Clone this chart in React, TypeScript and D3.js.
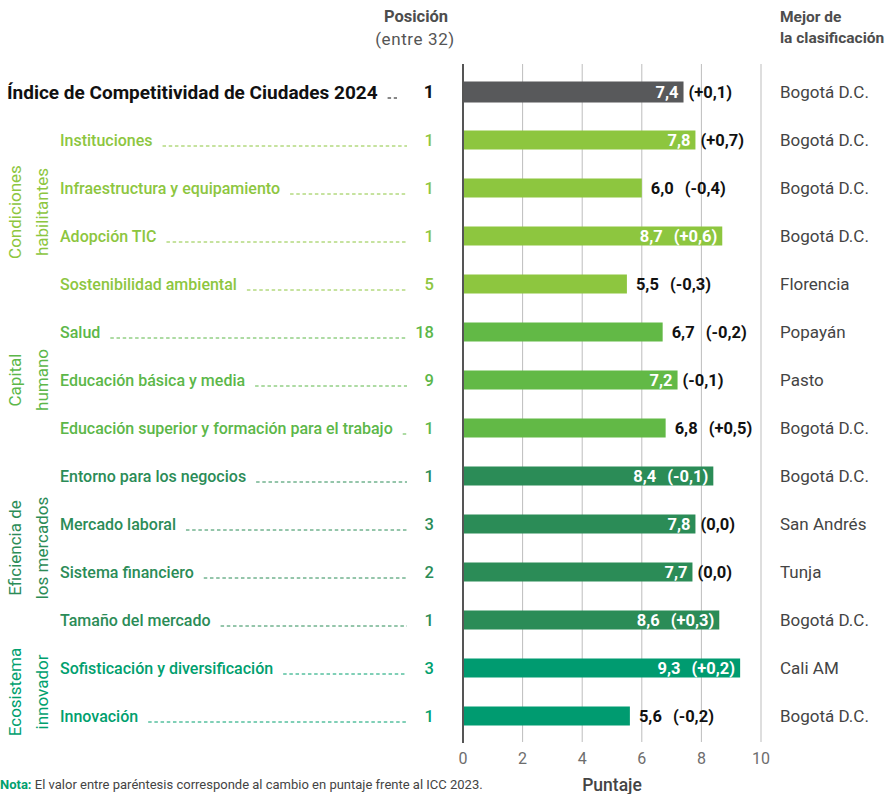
import React, { useEffect, useRef } from "react";
import * as d3 from "d3";

const categories = [
  "Índice de Competitividad de Ciudades 2024",
  "Instituciones",
  "Infraestructura y equipamiento",
  "Adopción TIC",
  "Sostenibilidad ambiental",
  "Salud",
  "Educación básica y media",
  "Educación superior y formación para el trabajo",
  "Entorno para los negocios",
  "Mercado laboral",
  "Sistema financiero",
  "Tamaño del mercado",
  "Sofisticación y diversificación",
  "Innovación",
];
const groupOf = [0, 1, 1, 1, 1, 2, 2, 2, 3, 3, 3, 3, 4, 4];
const pillarNames = [
  [],
  ["Condiciones", "habilitantes"],
  ["Capital", "humano"],
  ["Eficiencia de", "los mercados"],
  ["Ecosistema", "innovador"],
];
const scores = [7.4, 7.8, 6.0, 8.7, 5.5, 6.7, 7.2, 6.8, 8.4, 7.8, 7.7, 8.6, 9.3, 5.6];
const changes = [0.1, 0.7, -0.4, 0.6, -0.3, -0.2, -0.1, 0.5, -0.1, 0.0, 0.0, 0.3, 0.2, -0.2];
const positions = [1, 1, 1, 1, 5, 18, 9, 1, 1, 3, 2, 1, 3, 1];
const bestCities = [
  "Bogotá D.C.", "Bogotá D.C.", "Bogotá D.C.", "Bogotá D.C.", "Florencia",
  "Popayán", "Pasto", "Bogotá D.C.", "Bogotá D.C.", "San Andrés", "Tunja",
  "Bogotá D.C.", "Cali AM", "Bogotá D.C.",
];
const xTicks = [0, 2, 4, 6, 8, 10];

const barColors = ["#58595b", "#8dc63f", "#62b946", "#2b8c57", "#009b70"];
const textColors = ["#111111", "#8dc63f", "#5cb749", "#2b8c57", "#00a06e"];
const FONT = "Roboto, 'Noto Sans', sans-serif";

const fmt = (v: number) => v.toFixed(1).replace(".", ",");
const fmtChange = (v: number) =>
  "(" + (v > 0.001 ? "+" : v < -0.001 ? "-" : "") + Math.abs(v).toFixed(1).replace(".", ",") + ")";

export default function App() {
  const ref = useRef<SVGSVGElement>(null);
  useEffect(() => {
    const svg = d3.select(ref.current);
    svg.selectAll("*").remove();
    const x = d3.scaleLinear().domain([0, 10]).range([463, 761]);
    const y = d3
      .scaleBand<number>()
      .domain(d3.range(categories.length))
      .range([68, 740])
      .padding(0);
    const cy = (i: number) => (y(i) as number) + y.bandwidth() / 2;
    const barH = 19;

    // headers
    svg.append("text").attr("x", 416).attr("y", 22).attr("text-anchor", "middle")
      .attr("font-family", FONT).attr("font-size", 16.5).attr("font-weight", 700)
      .attr("fill", "#4d4d4d").text("Posición");
    svg.append("text").attr("x", 415).attr("y", 45).attr("text-anchor", "middle")
      .attr("font-family", FONT).attr("font-size", 17).attr("letter-spacing", 0.6).attr("fill", "#555")
      .text("(entre 32)");
    svg.append("text").attr("x", 780).attr("y", 22)
      .attr("font-family", FONT).attr("font-size", 15.5).attr("font-weight", 700)
      .attr("fill", "#4d4d4d").text("Mejor de");
    svg.append("text").attr("x", 780).attr("y", 43)
      .attr("font-family", FONT).attr("font-size", 15.5).attr("font-weight", 700)
      .attr("fill", "#4d4d4d").text("la clasificación");

    // gridlines
    const grid = svg.append("g");
    xTicks.filter((t) => t > 0).forEach((t) => {
      grid.append("line").attr("x1", x(t)).attr("x2", x(t)).attr("y1", 64).attr("y2", 742)
        .attr("stroke", "#bdbdbd").attr("stroke-width", 1);
    });
    // axis tick labels
    xTicks.forEach((t) => {
      svg.append("text").attr("x", x(t)).attr("y", 764).attr("text-anchor", "middle")
        .attr("font-family", FONT).attr("font-size", 16).attr("fill", "#6d6d6d")
        .text(String(t));
    });
    svg.append("text").attr("x", 612).attr("y", 791).attr("text-anchor", "middle")
      .attr("font-family", FONT).attr("font-size", 17.5).attr("font-weight", 500)
      .attr("fill", "#444").text("Puntaje");

    // bars
    categories.forEach((c, i) => {
      const g = groupOf[i];
      const yc = cy(i);
      const bh = i === 0 ? 21 : barH;
      svg.append("rect").attr("x", x(0)).attr("y", yc - bh / 2)
        .attr("width", x(scores[i]) - x(0)).attr("height", bh).attr("fill", barColors[g]);

      const end = x(scores[i]);
      const vs = fmt(scores[i]);
      const cs = fmtChange(changes[i]);
      const mode = scores[i] >= 8 ? "in" : scores[i] >= 7 ? "split" : "out";
      const common = (sel: any) =>
        sel.attr("font-family", FONT).attr("font-size", 16.5).attr("font-weight", 700)
          .attr("dy", "0.36em").attr("y", yc);
      if (mode === "in") {
        const ct = svg.append("text").attr("x", end - 5).attr("text-anchor", "end")
          .attr("fill", "#fff").text(cs).call(common);
        const w = (ct.node() as SVGTextElement).getComputedTextLength();
        svg.append("text").attr("x", end - 5 - w - 11).attr("text-anchor", "end")
          .attr("fill", "#fff").text(vs).call(common);
      } else if (mode === "split") {
        svg.append("text").attr("x", end - 5).attr("text-anchor", "end")
          .attr("fill", "#fff").text(vs).call(common);
        svg.append("text").attr("x", end + 5).attr("fill", "#111").text(cs).call(common);
      } else {
        const vt = svg.append("text").attr("x", end + 9).attr("fill", "#111").text(vs).call(common);
        const w = (vt.node() as SVGTextElement).getComputedTextLength();
        svg.append("text").attr("x", end + 9 + w + 11).attr("fill", "#111").text(cs).call(common);
      }

      // category label
      const lx = i === 0 ? 7 : 60;
      const lt = svg.append("text").attr("x", lx).attr("y", yc).attr("dy", "0.36em")
        .attr("font-family", FONT).attr("font-size", i === 0 ? 19 : 16)
        .attr("font-weight", i === 0 ? 700 : 500)
        .attr("fill", textColors[g]).text(c);
      const lw = (lt.node() as SVGTextElement).getComputedTextLength();
      const lx0 = lx + lw + 10;
      const lx1 = i === 0 ? 397 : 407;
      if (lx1 > lx0) {
        svg.append("line").attr("x1", lx0).attr("x2", lx1).attr("y1", yc + 6).attr("y2", yc + 6)
          .attr("stroke", textColors[g]).attr("stroke-width", 1).attr("stroke-dasharray", "3.5,2.7");
      }
      // position
      svg.append("text").attr("x", 434).attr("y", yc).attr("dy", "0.36em").attr("text-anchor", "end")
        .attr("font-family", FONT).attr("font-size", i === 0 ? 18 : 16.5)
        .attr("font-weight", i === 0 ? 700 : 500)
        .attr("fill", textColors[g]).text(String(positions[i]));
      // best city
      svg.append("text").attr("x", 780).attr("y", yc).attr("dy", "0.36em")
        .attr("font-family", FONT).attr("font-size", 17).attr("fill", "#444").text(bestCities[i]);
    });

    // axis line
    svg.append("line").attr("x1", x(0)).attr("x2", x(0)).attr("y1", 64).attr("y2", 743)
      .attr("stroke", "#555").attr("stroke-width", 2);

    // pillar labels
    for (let g = 1; g < pillarNames.length; g++) {
      const idx = d3.range(categories.length).filter((i) => groupOf[i] === g);
      const mid = (cy(idx[0]) + cy(idx[idx.length - 1])) / 2;
      pillarNames[g].forEach((line, k) => {
        svg.append("text").attr("transform", `translate(${21 + k * 27},${mid}) rotate(-90)`)
          .attr("text-anchor", "middle").attr("font-family", FONT).attr("font-size", 17)
          .attr("fill", textColors[g]).text(line);
      });
    }

    // note
    const note = svg.append("text").attr("x", 0).attr("y", 789)
      .attr("font-family", FONT).attr("font-size", 13);
    note.append("tspan").attr("font-weight", 700).attr("fill", "#00a06e").text("Nota:");
    note.append("tspan").attr("fill", "#444").text(" El valor entre paréntesis corresponde al cambio en puntaje frente al ICC 2023.");
  }, []);

  return (
    <svg
      ref={ref}
      width={890}
      height={794}
      style={{ position: "absolute", left: 0, top: 0, background: "#fff" }}
    />
  );
}
